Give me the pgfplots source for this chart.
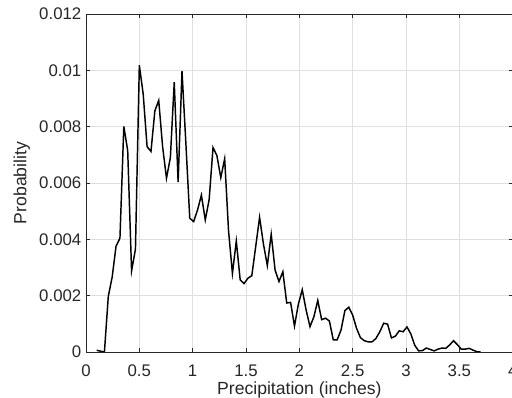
\documentclass[border=0pt]{standalone}
\usepackage{fontspec}
\setmainfont{Liberation Sans}
\usepackage{pgfplots}
\pgfplotsset{compat=1.18}
\definecolor{axgray}{RGB}{38,38,38}
\definecolor{gridgray}{RGB}{223,223,223}
\begin{document}
\begin{tikzpicture}
\begin{axis}[
  scale only axis,
  width=320pt, height=253.5pt,
  xmin=0, xmax=4, ymin=0, ymax=0.012,
  scaled y ticks=false, scaled x ticks=false,
  xtick={0,0.5,1,1.5,2,2.5,3,3.5,4},
  xticklabels={0,0.5,1,1.5,2,2.5,3,3.5,4},
  ytick={0,0.002,0.004,0.006,0.008,0.01,0.012},
  yticklabels={0,0.002,0.004,0.006,0.008,0.01,0.012},
  grid=major,
  major grid style={gridgray, line width=0.4pt},
  axis line style={axgray, line width=0.5pt},
  tick style={axgray, line width=0.5pt},
  tick align=inside, major tick length=3pt,
  ticklabel style={font=\fontsize{12.6}{14}\selectfont, text=axgray},
  xticklabel style={yshift=-6pt},
  label style={font=\fontsize{13.2}{15}\selectfont, text=axgray},
  xlabel style={yshift=3pt},
  xlabel={Precipitation (inches)},
  ylabel={Probability},
]
\addplot[black, line width=1.1pt] table {
x y
0.1000 0.00006
0.1364 0.00003
0.1727 0.00000
0.2091 0.00198
0.2455 0.00266
0.2818 0.00376
0.3182 0.00404
0.3545 0.00801
0.3909 0.00715
0.4273 0.00288
0.4636 0.00365
0.5000 0.01018
0.5364 0.00915
0.5727 0.00729
0.6091 0.00712
0.6455 0.00856
0.6818 0.00893
0.7182 0.00729
0.7545 0.00617
0.7909 0.00690
0.8273 0.00958
0.8636 0.00603
0.9000 0.00997
0.9364 0.00740
0.9727 0.00475
1.0091 0.00463
1.0455 0.00504
1.0818 0.00557
1.1182 0.00469
1.1545 0.00541
1.1909 0.00726
1.2273 0.00697
1.2636 0.00619
1.3000 0.00686
1.3364 0.00430
1.3727 0.00279
1.4091 0.00394
1.4455 0.00256
1.4818 0.00243
1.5182 0.00262
1.5545 0.00271
1.5909 0.00374
1.6273 0.00478
1.6636 0.00383
1.7000 0.00307
1.7364 0.00418
1.7727 0.00291
1.8091 0.00250
1.8455 0.00285
1.8818 0.00174
1.9182 0.00176
1.9545 0.00092
1.9909 0.00170
2.0273 0.00221
2.0636 0.00149
2.1000 0.00090
2.1364 0.00125
2.1727 0.00183
2.2091 0.00115
2.2455 0.00120
2.2818 0.00110
2.3182 0.00043
2.3545 0.00043
2.3909 0.00078
2.4273 0.00147
2.4636 0.00159
2.5000 0.00131
2.5364 0.00084
2.5727 0.00051
2.6091 0.00040
2.6455 0.00036
2.6818 0.00036
2.7182 0.00048
2.7545 0.00072
2.7909 0.00102
2.8273 0.00099
2.8636 0.00050
2.9000 0.00056
2.9364 0.00075
2.9727 0.00072
3.0091 0.00089
3.0455 0.00064
3.0818 0.00024
3.1182 0.00004
3.1545 0.00005
3.1909 0.00014
3.2273 0.00009
3.2636 0.00004
3.3000 0.00010
3.3364 0.00014
3.3727 0.00013
3.4091 0.00025
3.4455 0.00040
3.4818 0.00026
3.5182 0.00010
3.5545 0.00010
3.5909 0.00013
3.6273 0.00007
3.6636 0.00001
3.7000 0.00000
};
\end{axis}
\pgfresetboundingbox
\path[use as bounding box] ([shift={(-64.5pt,-34.5pt)}]current axis.south west) rectangle ([shift={(-0.5pt,10.5pt)}]current axis.north east);
\end{tikzpicture}
\end{document}
